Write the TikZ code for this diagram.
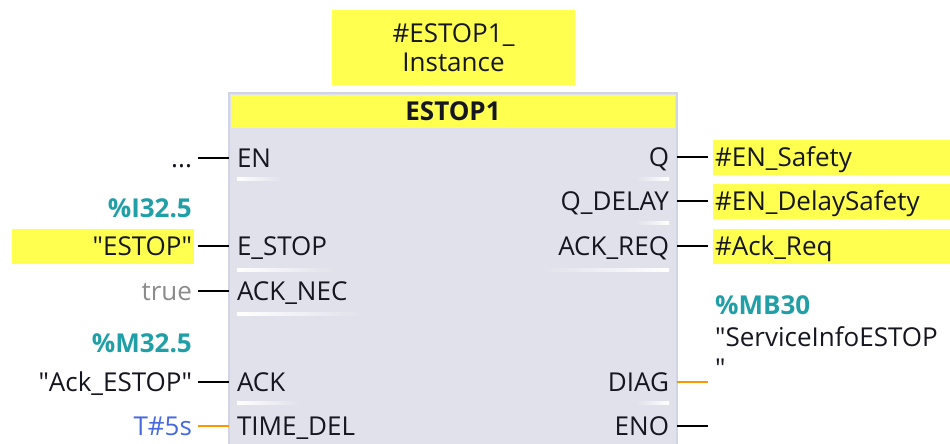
\documentclass[tikz,border=0pt]{standalone}
\usepackage{fontspec}
\setmainfont{Open Sans}
\usepackage{tikz}
\usetikzlibrary{positioning}
\definecolor{tiayellow}{RGB}{255,255,80}
\definecolor{blockgray}{RGB}{224,225,234}
\definecolor{blockedge}{RGB}{208,212,228}
\definecolor{ink}{RGB}{22,22,32}
\definecolor{addrteal}{RGB}{32,160,166}
\definecolor{constblue}{RGB}{70,105,225}
\definecolor{constgray}{RGB}{140,140,140}
\definecolor{wireorange}{RGB}{255,150,0}
\newcommand{\tagquote}[1]{\textquotedbl#1\textquotedbl}
\tikzset{
    x=1pt, y=-1pt,
    wire/.style={line width=2.6pt, black},
    wire orange/.style={wire, color=wireorange},
    label text/.style={text=ink, text height=19pt, text depth=0pt, inner ysep=8pt},
    value/.style={label text, anchor=east, inner xsep=2pt, outer xsep=4pt},
    operand/.style={label text, fill=tiayellow, inner xsep=2pt},
    out operand/.style={operand, anchor=west, outer xsep=5pt, text width=240pt, align=left},
    address/.style={text=addrteal, font=\fontsize{26}{31}\selectfont\bfseries, inner sep=0pt},
    pin in/.style={label text, anchor=west, inner xsep=8pt, outer sep=0pt},
    pin out/.style={label text, anchor=east, inner xsep=8pt, outer sep=0pt},
    underline in/.style={left color=white, right color=blockgray},
    underline out/.style={left color=blockgray, right color=white},
}
\tikzstyle{every node}=[font=\fontsize{26}{31}\selectfont]

\begin{document}
\begin{tikzpicture}
    \clip (0,0) rectangle (950,444);
    \fill[white] (0,0) rectangle (950,444);

    % instance data block and function block body
    \node[fill=tiayellow, minimum width=243pt, minimum height=75pt, align=center, text=ink,
        font=\fontsize{26}{29}\selectfont] (inst) at (453.5,47.5) {\#ESTOP1\_\\Instance};
    \draw[fill=blockgray, draw=blockedge, line width=1.5pt] (229,93) rectangle (677,470);
    \node[fill=tiayellow, minimum width=444pt, minimum height=33pt, inner sep=0pt, text=ink,
        font=\fontsize{26}{31}\selectfont\bfseries] (head) at (453,111.5) {ESTOP1};

    % separators under the pins
    \shade[underline in] (237,177.5) rectangle (282,180);
    \shade[underline in] (237,268.5) rectangle (336,271);
    \shade[underline in] (237,312.5) rectangle (364,315);
    \shade[underline in] (237,401.5) rectangle (300,404);
    \shade[underline out] (636,177.5) rectangle (669,180);
    \shade[underline out] (636,221.5) rectangle (669,224);
    \shade[underline out] (540,268.5) rectangle (669,271);
    \shade[underline out] (636,401.5) rectangle (669,404);

    % inputs
    \node[pin in] (pEN) at (229,158) {EN};
    \node[pin in] (pESTOP) at (229,246) {E\_STOP};
    \node[pin in] (pACKNEC) at (229,291) {ACK\_NEC};
    \node[pin in] (pACK) at (229,382) {ACK};
    \node[pin in] (pTIME) at (229,426) {TIME\_DEL};

    \node[value] (vEN) at (198,158) {...};
    \node[address, anchor=east] (aESTOP) at (192,208) {\%I32.5};
    \node[value, operand, text width=178pt, align=right] (vESTOP) at (198,246) {\tagquote{ESTOP}};
    \node[value, text=constgray] (vACKNEC) at (198,291) {true};
    \node[address, anchor=east] (aACK) at (192,343) {\%M32.5};
    \node[value] (vACK) at (198,382) {\tagquote{Ack\_ESTOP}};
    \node[value, text=constblue] (vTIME) at (198,426) {T\#5s};

    \draw[wire] (vEN) -- (pEN);
    \draw[wire] (vESTOP) -- (pESTOP);
    \draw[wire] (vACKNEC) -- (pACKNEC);
    \draw[wire] (vACK) -- (pACK);
    \draw[wire orange] (vTIME) -- (pTIME);

    % outputs
    \node[pin out] (pQ) at (677,157) {Q};
    \node[pin out] (pQDELAY) at (677,201) {Q\_DELAY};
    \node[pin out] (pACKREQ) at (677,246) {ACK\_REQ};
    \node[pin out] (pDIAG) at (677,382) {DIAG};
    \node[pin out] (pENO) at (677,426) {ENO};

    \node[out operand] (vQ) at (708,157) {\#EN\_Safety};
    \node[out operand] (vQDELAY) at (708,201) {\#EN\_DelaySafety};
    \node[out operand] (vACKREQ) at (708,246) {\#Ack\_Req};
    \node[address, anchor=west] (aDIAG) at (715,305) {\%MB30};
    \node[anchor=north west, inner sep=0pt, align=left, text=ink,
        font=\fontsize{26}{31}\selectfont] (vDIAG) at (715,326) {\textquotedbl ServiceInfoESTOP\\\textquotedbl};
    \coordinate (eDIAG) at (708,382);
    \coordinate (eENO) at (708,426);

    \draw[wire] (pQ) -- (vQ);
    \draw[wire] (pQDELAY) -- (vQDELAY);
    \draw[wire] (pACKREQ) -- (vACKREQ);
    \draw[wire orange] (pDIAG) -- (eDIAG);
    \draw[wire] (pENO) -- (eENO);
\end{tikzpicture}
\end{document}
